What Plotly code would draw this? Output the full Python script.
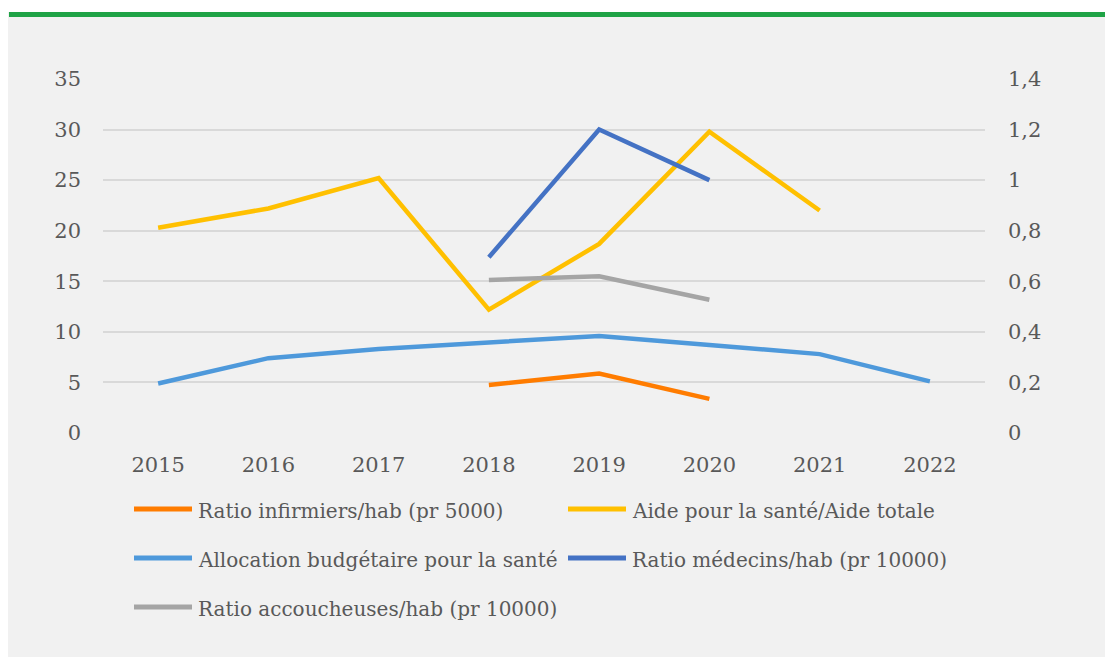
import plotly.graph_objects as go

years = ["2015", "2016", "2017", "2018", "2019", "2020", "2021", "2022"]

# left axis series
aide_sante = [20.3, 22.2, 25.2, 12.2, 18.7, 29.8, 22.0, None]
allocation = [4.9, 7.4, 8.3, 9.0, 9.6, 8.7, 7.8, 5.1]
# right axis series (ratios)
ratio_infirmiers = [None, None, None, 0.19, 0.235, 0.135, None, None]
ratio_medecins = [None, None, None, 0.695, 1.2, 1.0, None, None]
ratio_accoucheuses = [None, None, None, 0.605, 0.62, 0.527, None, None]

names = [
    "Ratio infirmiers/hab (pr 5000)",
    "Aide pour la santé/Aide totale",
    "Allocation budgétaire pour la santé",
    "Ratio médecins/hab (pr 10000)",
    "Ratio accoucheuses/hab (pr 10000)",
]
colors = ["#FF7C00", "#FFC000", "#4E99DB", "#4472C4", "#A5A5A5"]

left_ticks = [0, 5, 10, 15, 20, 25, 30, 35]
right_ticks = [0, 0.2, 0.4, 0.6, 0.8, 1.0, 1.2, 1.4]

FONT = "DejaVu Serif"
TXT = "#595959"

fig = go.Figure()
series = [
    (ratio_infirmiers, "y2"),
    (aide_sante, "y"),
    (allocation, "y"),
    (ratio_medecins, "y2"),
    (ratio_accoucheuses, "y2"),
]
for (vals, ax), name, col in zip(series, names, colors):
    fig.add_trace(go.Scatter(
        x=years, y=vals, name=name, mode="lines", yaxis=ax,
        line=dict(color=col, width=4.5), connectgaps=False, showlegend=False,
    ))

# plot area geometry in figure px (page px minus 8px body margin)
OFF = 8
L, R, T, B = 103 - OFF, 985 - OFF, 79 - OFF, 433 - OFF
def px_x(px):
    return (px - OFF - L) / (R - L)
def px_y(py):
    return (B - (py - OFF)) / (B - T)

shapes = [
    dict(type="rect", xref="paper", yref="paper", layer="below",
         x0=px_x(0), x1=px_x(1130), y0=px_y(12), y1=px_y(0),
         fillcolor="white", line=dict(width=0)),
    dict(type="rect", xref="paper", yref="paper", layer="below",
         x0=px_x(9), x1=px_x(1130), y0=px_y(17), y1=px_y(12),
         fillcolor="#1FA346", line=dict(width=0)),
]
annotations = []
# legend layout (two columns)
leg_pos = [(134, 509), (568, 509), (134, 558), (568, 558), (134, 607)]
for (lx, ly), name, col in zip(leg_pos, names, colors):
    shapes.append(dict(type="line", xref="paper", yref="paper",
                       x0=px_x(lx), x1=px_x(lx + 58), y0=px_y(ly), y1=px_y(ly),
                       line=dict(color=col, width=5)))
    annotations.append(dict(xref="paper", yref="paper", x=px_x(lx + 62), y=px_y(ly + 2),
                            xanchor="left", yanchor="middle", showarrow=False,
                            text=name, font=dict(family=FONT, size=20, color=TXT)))

fig.update_layout(
    width=1113, height=657,
    margin=dict(l=L, r=1113 - R, t=T, b=657 - B),
    paper_bgcolor="#F1F1F1", plot_bgcolor="rgba(0,0,0,0)",
    separators=", ",
    font=dict(family=FONT, size=21, color=TXT),
    shapes=shapes, annotations=annotations,
    xaxis=dict(type="category", showgrid=False, zeroline=False, showline=False,
               ticks="", tickfont=dict(size=21, color=TXT), ticklabelstandoff=17,
               range=[-0.5, 7.5]),
    yaxis=dict(range=[0, 35], tickvals=left_ticks, showgrid=True, gridcolor="#D9D9D9",
               gridwidth=1.5, zeroline=False, showline=False, ticks="",
               tickfont=dict(size=21, color=TXT), ticklabelstandoff=21),
    yaxis2=dict(range=[0, 1.4], tickvals=right_ticks, overlaying="y", side="right",
                showgrid=False, zeroline=False, showline=False, ticks="",
                tickfont=dict(size=21, color=TXT), ticklabelstandoff=22),
    showlegend=False,
)

fig.write_html("out.html")
